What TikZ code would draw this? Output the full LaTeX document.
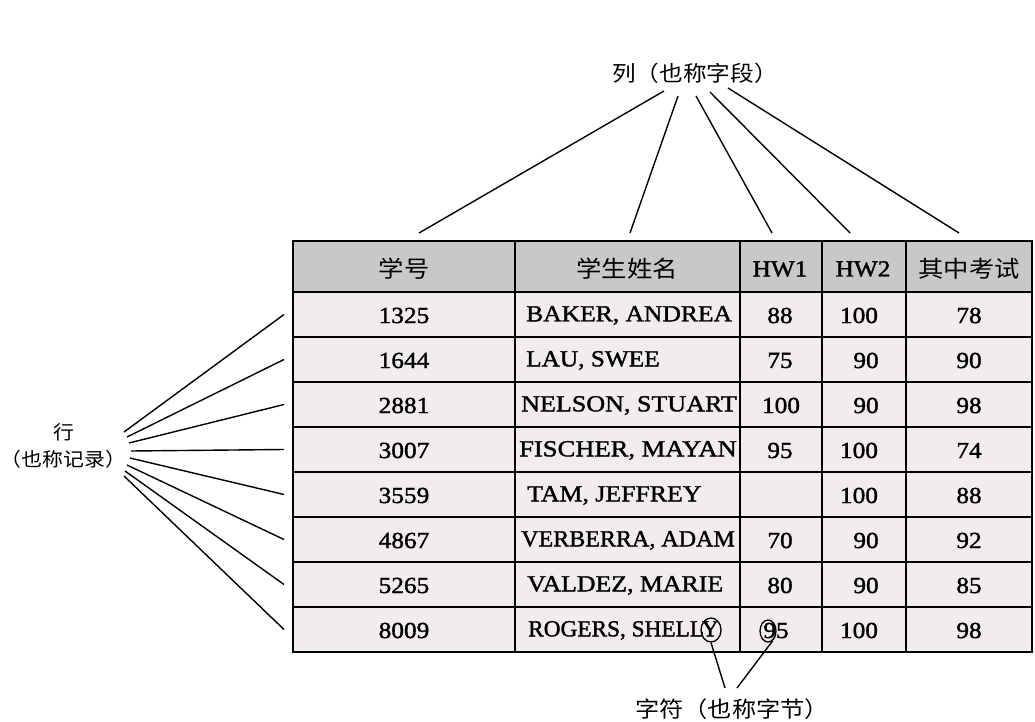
\documentclass[tikz,border=0pt]{standalone}
\usepackage{fontspec}
\usepackage{graphicx}
\setmainfont{Liberation Serif}[FakeStretch=1.1,FakeBold=1.5]
\newfontfamily\cjk{Noto Sans CJK SC}[FakeStretch=1.1]
\usetikzlibrary{shapes.geometric}
\definecolor{hdrgray}{RGB}{200,200,200}
\definecolor{rowfill}{RGB}{240,236,240}
\begin{document}
\begin{tikzpicture}[x=1pt,y=-1pt,
  conn/.style={line width=1.4pt},
  grid/.style={line width=2.6pt, line cap=rect},
  txt/.style={inner sep=0pt, font=\fontsize{23}{25}\selectfont},
  lbl/.style={inner sep=0pt, font=\cjk\fontsize{21.5}{27}\selectfont, align=center},
  charmark/.style={draw, ellipse, line width=1.3pt, inner sep=0pt}]
\useasboundingbox (0,0) rectangle (1035,722);
% table fills
\fill[hdrgray] (293,241) rectangle (1032,292);
\fill[rowfill] (293,292) rectangle (1032,652);
% grid
\foreach \y in {241,292,337,382,427,472,517,562,607,652}
  \draw[grid] (293,\y) -- (1032,\y);
\foreach \x in {293,515,740,822,906,1032}
  \draw[grid] (\x,241) -- (\x,652);
% header
\node[txt] (h1) at (404,269) {\cjk 学号};
\node[txt] (h2) at (627,269) {\cjk 学生姓名};
\node[txt] (h3) at (780,269) {HW1};
\node[txt] (h4) at (863,269) {HW2};
\node[txt] (h5) at (969,269) {\cjk 其中考试};
% rows
\foreach \id/\name/\nx/\sx/\a/\ax/\b/\bx/\c [count=\i] in {
  1325/{BAKER, ANDREA}/526/1.01/88/780/100/859/78,
  1644/{LAU, SWEE}/526/1.0/75/780/90/866/90,
  2881/{NELSON, STUART}/521/1.03/100/781/90/866/98,
  3007/{FISCHER, MAYAN}/519/1.05/95/780/100/859/74,
  3559/{TAM, JEFFREY}/527/1.02/{}/780/100/859/88,
  4867/{VERBERRA, ADAM}/521/0.95/70/780/90/866/92,
  5265/{VALDEZ, MARIE}/527/1.02/80/780/90/866/85,
  8009/{ROGERS, SHELLY}/528/0.92/95/776/100/859/98}{
  \pgfmathsetmacro{\yy}{270.5+45*\i}
  \node[txt] (r\i id) at (404,\yy) {\id};
  \node[txt, anchor=west] (r\i name) at (\nx,\yy) {\scalebox{\sx}[1]{\name}};
  \node[txt] (r\i hwa) at (\ax,\yy) {\a};
  \node[txt] (r\i hwb) at (\bx,\yy) {\b};
  \node[txt] (r\i mid) at (969,\yy) {\c};
}
% column label
\node[lbl] (collbl) at (695,73) {列（也称字段）};
\coordinate (ct1) at (664,91);  \coordinate (ce1) at (419,233);
\coordinate (ct2) at (678,96);  \coordinate (ce2) at (630,233);
\coordinate (ct3) at (696,96);  \coordinate (ce3) at (772,233);
\coordinate (ct4) at (710,92);  \coordinate (ce4) at (850,233);
\coordinate (ct5) at (728,88);  \coordinate (ce5) at (959,233);
\foreach \k in {1,...,5} \draw[conn] (ct\k) -- (ce\k);
% row label
\node[lbl, font=\cjk\fontsize{19}{27}\selectfont] (rowlbl) at (63.5,446) {行\\（也称记录）};
\foreach \k/\sx/\sy in {1/124/432,2/127/437,3/129/443,4/131/451,5/130/458,6/127/465,7/125/471,8/124/476}{
  \coordinate (rs\k) at (\sx,\sy);
  \coordinate (re\k) at (284,{269.5+45*\k});
  \draw[conn] (rs\k) -- (re\k);
}
% character marks
\node[charmark, minimum width=20pt, minimum height=24pt] (markY) at (711,630) {};
\node[charmark, minimum width=16pt, minimum height=22pt] (mark9) at (768,631) {};
\node[lbl, font=\cjk\fontsize{22}{27}\selectfont] (charlbl) at (732,709) {字符（也称字节）};
\coordinate (cb1) at (725,688);
\coordinate (cb2) at (737,688);
\draw[conn] (markY.south) -- (cb1);
\draw[conn] (mark9.-65) -- (cb2);
\end{tikzpicture}
\end{document}
